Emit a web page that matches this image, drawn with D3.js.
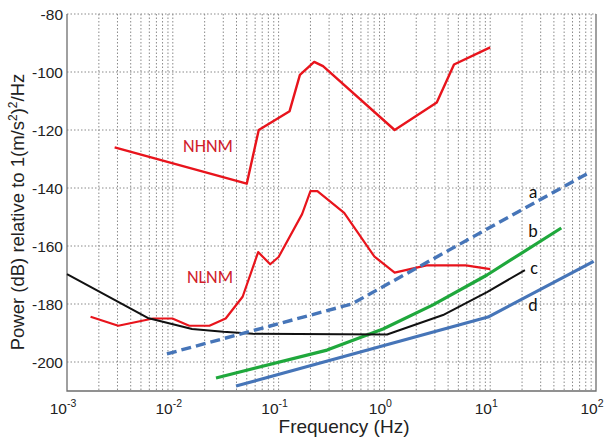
<!DOCTYPE html>
<html>
<head>
<meta charset="utf-8">
<script src="https://cdn.jsdelivr.net/npm/d3@7"></script>
<style>
  html, body { margin: 0; padding: 0; background: #fff; }
  svg { display: block; }
</style>
</head>
<body>
<script>
// Seismic noise models and instrument self-noise curves (power in dB rel. 1 (m/s^2)^2/Hz)
const nhnmFreq = [0.00282, 0.05, 0.0649, 0.127, 0.159, 0.217, 0.263, 1.25, 3.125, 4.55, 10];
const nhnmPower = [-126.0, -138.5, -120.0, -113.5, -101.0, -96.5, -98.0, -120.0, -110.5, -97.4, -91.5];

const nlnmFreq = [0.00167, 0.00305, 0.0065, 0.0099, 0.0143, 0.0222, 0.0316, 0.0457, 0.0641, 0.0833, 0.1, 0.1667, 0.2, 0.2326, 0.4167, 0.806, 1.25, 2.5, 5.88, 10];
const nlnmPower = [-184.4, -187.5, -185.0, -185.0, -187.5, -187.5, -185.0, -177.5, -162.1, -166.3, -163.8, -149.0, -141.1, -141.1, -148.6, -163.7, -169.2, -166.7, -166.7, -168.0];

const blackFreq = [0.001, 0.0058, 0.0152, 0.03, 0.0573, 1.06, 3.58, 9.33, 21.3];
const blackPower = [-169.7, -184.8, -188.6, -189.6, -190.3, -190.5, -183.8, -175.9, -168.3];

const aFreq = [0.0088, 0.49, 88];
const aPower = [-197.2, -180.0, -134.5];

const bFreq = [0.0256, 0.287, 0.97, 2.88, 9.33, 47];
const bPower = [-205.5, -195.9, -188.6, -180.3, -170.0, -153.8];

const dFreq = [0.0396, 9.53, 95];
const dPower = [-208.3, -184.5, -165.3];

const yTicks = [-200, -180, -160, -140, -120, -100, -80];
const xTickExps = [-3, -2, -1, 0, 1, 2];

const W = 608, H = 439;
const svg = d3.select("body").append("svg").attr("width", W).attr("height", H);

const x = d3.scaleLog().domain([1e-3, 1e2]).range([67, 596]);
const y = d3.scaleLinear().domain([-210, -80]).range([391, 14]);

const gridColor = "#8a8a8a";
const font = "Liberation Sans, Arial, sans-serif";

// vertical grid lines at every 1..9 x 10^k
const gridFreqs = [];
for (let e = -3; e < 2; e++) {
  for (let m = 1; m <= 9; m++) gridFreqs.push(m * Math.pow(10, e));
}
svg.append("g").selectAll("line").data(gridFreqs.filter(f => f > 1e-3)).join("line")
  .attr("x1", d => x(d)).attr("x2", d => x(d))
  .attr("y1", y(-80)).attr("y2", y(-210))
  .attr("stroke", gridColor).attr("stroke-width", 1).attr("stroke-dasharray", "1.5,2");

// horizontal grid lines
svg.append("g").selectAll("line").data(yTicks).join("line")
  .attr("x1", x(1e-3)).attr("x2", x(1e2))
  .attr("y1", d => y(d)).attr("y2", d => y(d))
  .attr("stroke", gridColor).attr("stroke-width", 1).attr("stroke-dasharray", "1.5,2");

// frame: left, bottom, right
const frame = svg.append("g").attr("stroke", "#6e6e6e").attr("stroke-width", 1.3).attr("fill", "none");
frame.append("path").attr("d", `M${x(1e-3)},${y(-80)}V${y(-210)}H${x(1e2)}V${y(-80)}`);

// y tick labels
svg.append("g").selectAll("text").data(yTicks).join("text")
  .attr("x", 63).attr("y", d => y(d)).attr("dy", "0.36em")
  .attr("text-anchor", "end").attr("font-family", font).attr("font-size", 15.5)
  .attr("fill", "#222").text(d => d);

// x tick labels 10^k
const xt = svg.append("g").selectAll("text").data(xTickExps).join("text")
  .attr("x", d => x(Math.pow(10, d)) - 4).attr("y", 414)
  .attr("text-anchor", "middle").attr("font-family", font).attr("fill", "#222");
xt.append("tspan").attr("font-size", 15.5).text("10");
xt.append("tspan").attr("font-size", 10.5).attr("dy", -7).text(d => d);

// axis titles
svg.append("text").attr("x", 344).attr("y", 433).attr("text-anchor", "middle")
  .attr("font-family", font).attr("font-size", 19).attr("fill", "#222").text("Frequency (Hz)");

const yl = svg.append("text").attr("transform", "translate(24,212) rotate(-90)")
  .attr("text-anchor", "middle").attr("font-family", font).attr("font-size", 18.5).attr("fill", "#222");
yl.append("tspan").text("Power (dB) relative to 1(m/s");
yl.append("tspan").attr("font-size", 12).attr("dy", -7).text("2");
yl.append("tspan").attr("dy", 7).text(")");
yl.append("tspan").attr("font-size", 12).attr("dy", -7).text("2");
yl.append("tspan").attr("dy", 7).text("/Hz");

// curves
const line = d3.line().x(d => x(d[0])).y(d => y(d[1]));
const zip = (f, p) => f.map((v, i) => [v, p[i]]);

const curves = [
  { pts: zip(nhnmFreq, nhnmPower), color: "#e8141c", w: 2.4 },
  { pts: zip(nlnmFreq, nlnmPower), color: "#e8141c", w: 2.2 },
  { pts: zip(bFreq, bPower), color: "#1fa83c", w: 3.2 },
  { pts: zip(blackFreq, blackPower), color: "#111111", w: 2 },
  { pts: zip(dFreq, dPower), color: "#4675b8", w: 3.2 },
  { pts: zip(aFreq, aPower), color: "#4675b8", w: 3.4, dash: "10,5" }
];
svg.append("g").selectAll("path").data(curves).join("path")
  .attr("d", d => line(d.pts)).attr("fill", "none")
  .attr("stroke", d => d.color).attr("stroke-width", d => d.w)
  .attr("stroke-linejoin", "round")
  .attr("stroke-dasharray", d => d.dash || null);

// curve labels
const labelFont = "Carlito, Lato, 'Open Sans', sans-serif";
svg.append("text").attr("x", 208).attr("y", 152).attr("text-anchor", "middle")
  .attr("font-family", labelFont).attr("font-size", 18).attr("fill", "#d0202a").text("NHNM");
svg.append("text").attr("x", 210).attr("y", 283).attr("text-anchor", "middle")
  .attr("font-family", labelFont).attr("font-size", 18).attr("fill", "#d0202a").text("NLNM");

const curveLabels = [
  { t: "a", px: 533, py: 198 },
  { t: "b", px: 533, py: 237 },
  { t: "c", px: 534, py: 274 },
  { t: "d", px: 533, py: 311 }
];
svg.append("g").selectAll("text").data(curveLabels).join("text")
  .attr("x", d => d.px).attr("y", d => d.py).attr("text-anchor", "middle")
  .attr("font-family", labelFont).attr("font-size", 18).attr("fill", "#111").text(d => d.t);
</script>
</body>
</html>
